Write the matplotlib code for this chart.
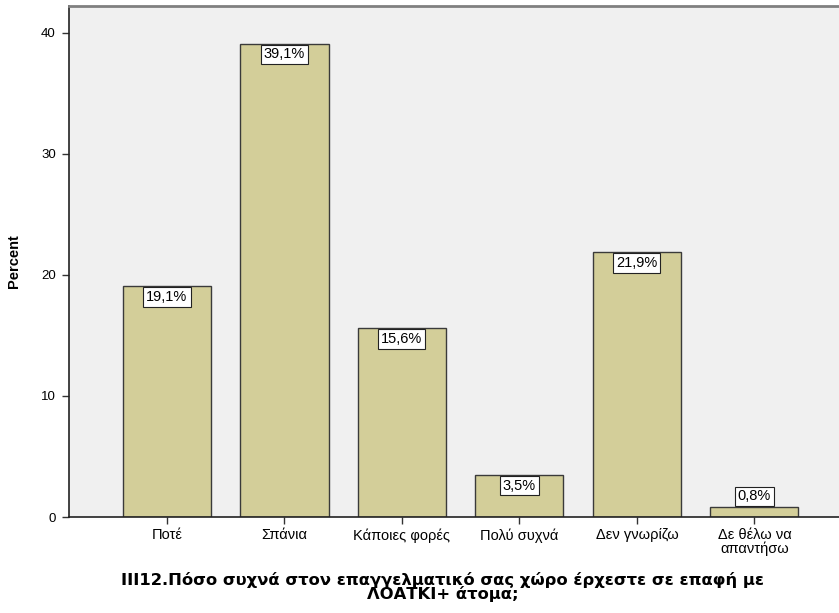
import matplotlib
matplotlib.use("Agg")
import matplotlib.pyplot as plt

categories = ["Ποτέ", "Σπάνια", "Κάποιες φορές", "Πολύ συχνά", "Δεν γνωρίζω", "Δε θέλω να\nαπαντήσω"]
percents = [19.1, 39.1, 15.6, 3.5, 21.9, 0.8]
value_labels = ["19,1%", "39,1%", "15,6%", "3,5%", "21,9%", "0,8%"]
y_ticks = [0, 10, 20, 30, 40]
title = "III12.Πόσο συχνά στον επαγγελματικό σας χώρο έρχεστε σε επαφή με\nΛΟΑΤΚΙ+ άτομα;"

plt.rcParams["font.family"] = ["Liberation Sans", "DejaVu Sans"]

fig = plt.figure(figsize=(8.39, 6.13), dpi=100)
fig.patch.set_facecolor("white")
ax = fig.add_axes([69 / 839, 1 - 517 / 613, 1 - 69 / 839, (517 - 6) / 613])
ax.set_facecolor("#F0F0F0")

x = list(range(len(categories)))
ax.bar(x, percents, width=0.75, color="#D3CE99", edgecolor="#3A3A3A", linewidth=1.0, zorder=2)

box_style = dict(boxstyle="square,pad=0.2", fc="white", ec="#222222", lw=0.8)
for xi, v, lab in zip(x, percents, value_labels):
    if v > 3:
        ax.annotate(lab, xy=(xi, v), xytext=(0, -2.8), textcoords="offset points",
                    ha="center", va="top", fontsize=10.5, zorder=3, bbox=box_style)
    else:
        ax.annotate(lab, xy=(xi, v), xytext=(0, 2.8), textcoords="offset points",
                    ha="center", va="bottom", fontsize=10.5, zorder=3, bbox=box_style)

ax.set_xlim(-0.834, 5.72)
ax.set_ylim(0, 42.2)
ax.set_xticks(x)
ax.set_xticklabels(categories, fontsize=10.5, linespacing=0.95)
ax.set_yticks(y_ticks)
ax.set_yticklabels([str(t) for t in y_ticks], fontsize=9.5)
ax.tick_params(axis="both", direction="out", length=5, width=1, color="#333333", pad=3)
ax.tick_params(axis="y", pad=4.5)

for side in ["left", "bottom"]:
    ax.spines[side].set_color("#222222")
    ax.spines[side].set_linewidth(1.2)
ax.spines["right"].set_visible(False)
ax.spines["top"].set_color("#808080")
ax.spines["top"].set_linewidth(2)

ax.set_ylabel("Percent", fontsize=10.5, fontweight="bold", labelpad=14)
fig.text(0.528, 1 - 587 / 613, title, ha="center", va="center", fontsize=11.8,
         fontweight="bold", linespacing=0.88, family="DejaVu Sans")

fig.savefig("out.png", dpi=100)
